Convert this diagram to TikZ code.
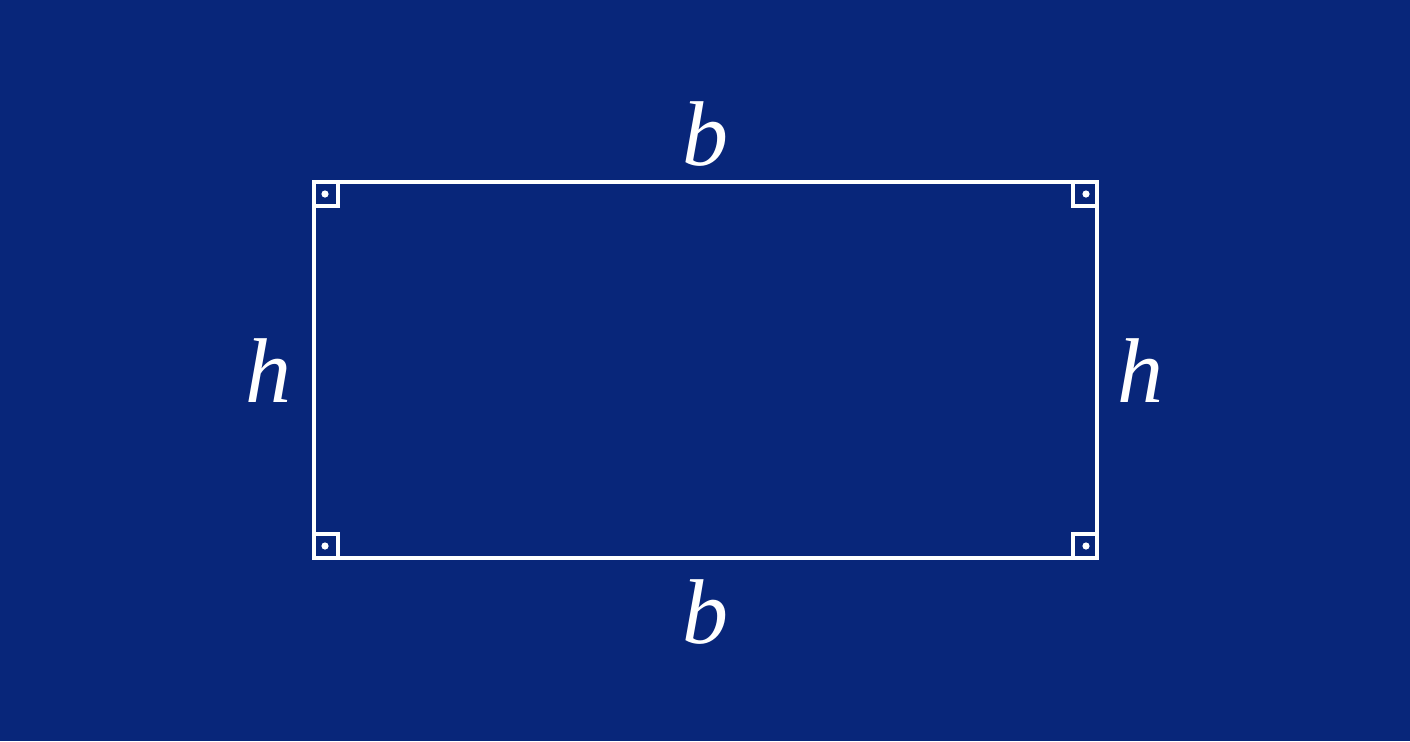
\documentclass[tikz,border=0pt]{standalone}
\usepackage{fontspec}
\setmainfont{Liberation Serif}
\usepackage{xcolor}
\definecolor{Navy}{HTML}{08267A}
\colorlet{Ink}{white}
\usetikzlibrary{positioning,calc}

\begin{document}
\begin{tikzpicture}[x=0.5pt,y=-0.5pt,every node/.style={font=\fontsize{46}{50}\selectfont\itshape,text=Ink,inner sep=0pt},side/.style={draw=Ink,line width=2pt}]
\fill[Navy] (0,0) rectangle (1410,741);
\useasboundingbox (0,0) rectangle (1410,741);
\coordinate (tl) at (314,182);
\coordinate (tr) at (1097,182);
\coordinate (br) at (1097,558);
\coordinate (bl) at (314,558);
\draw[side] (tl)--(tr)--(br)--(bl)--cycle;
% right angle marks
\foreach \c/\dx/\dy in {tl/1/1,tr/-1/1,br/-1/-1,bl/1/-1}{
  \draw[side] ($(\c)+(24*\dx,0)$) |- ($(\c)+(0,24*\dy)$);
  \fill[Ink] ($(\c)+(11*\dx,12*\dy)$) circle (1.8pt);
}
\node[anchor=base] (bt) at ($(tl)!0.5!(tr)+(0,-17)$) {b};
\node[anchor=base] (bb) at ($(bl)!0.5!(br)+(0,85)$) {b};
\node[anchor=base east] (hl) at ($(tl)!0.5!(bl)+(-22,32)$) {h};
\node[anchor=base west] (hr) at ($(tr)!0.5!(br)+(20,32)$) {h};
\end{tikzpicture}
\end{document}
